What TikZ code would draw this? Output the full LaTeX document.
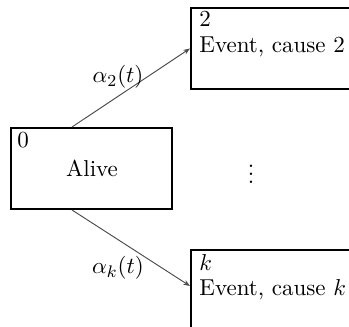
\documentclass[tikz,border=0pt]{standalone}
\usetikzlibrary{arrows.meta,calc}
\begin{document}
\begin{tikzpicture}[x=0.47619pt,y=-0.47619pt,
  font=\fontsize{10.95}{13.6}\selectfont,
  box/.style={draw,line width=0.95pt,inner sep=0pt,minimum width=#1},
  lbl/.style={anchor=base west,inner sep=0pt},
  arr/.style={draw=black!70,line width=0.45pt,-{Stealth[length=3.2pt,width=2.4pt]}}]
\clip (0,0) rectangle (349,327);
\node[box=76.67pt,minimum height=38.57pt] (alive) at (91.5,168.5) {};
\node[box=80.5pt,minimum height=38.57pt] (top) at (275.5,48.5) {};
\node[box=80.5pt,minimum height=42.86pt] (bot) at (275.5,295) {};
\node[lbl] (n0) at (17,148) {0};
\node[anchor=base,inner sep=0pt] (alivetxt) at (92,177) {Alive};
\node[lbl] (n2) at (199,27) {2};
\node[lbl] (e2) at (199,53) {Event, cause 2};
\node[lbl] (nk) at (199,271) {$k$};
\node[lbl] (ek) at (199,296) {Event, cause $k$};
\node[inner sep=0pt] (dots) at (251,168) {$\vdots$};
\coordinate (s1) at ($(alive.north west)+(62,0)$);
\coordinate (s2) at ($(alive.south west)+(62,0)$);
\coordinate (t2) at ($(bot.north west)+(0,37)$);
\draw[arr] (s1) -- (top.west);
\draw[arr] (s2) -- (t2);
\node[inner sep=0pt] (a2) at (118,77) {$\alpha_2(t)$};
\node[inner sep=0pt] (ak) at (118,268) {$\alpha_k(t)$};
\end{tikzpicture}
\end{document}
